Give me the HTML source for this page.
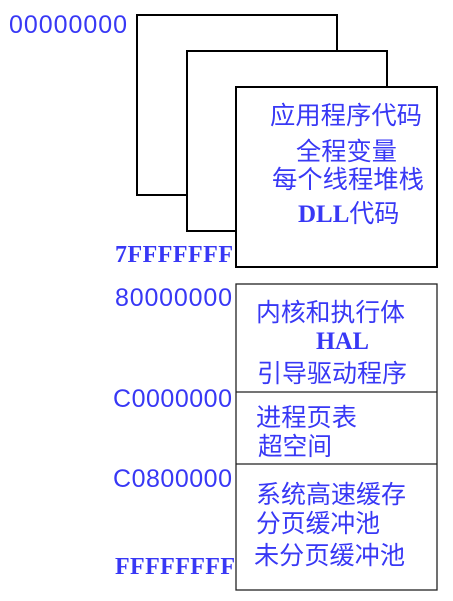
<!DOCTYPE html>
<html><head><meta charset="utf-8"><style>html,body{margin:0;padding:0;background:#fff}svg{display:block}</style></head>
<body>
<svg width="453" height="601" viewBox="0 0 453 601" xmlns="http://www.w3.org/2000/svg">
<g fill="#fff" stroke="#000" stroke-width="2">
<rect x="137" y="15" width="200" height="180"/>
<rect x="187" y="51" width="200" height="180"/>
<rect x="236" y="87" width="201" height="180"/>
</g>
<g fill="none" stroke="#222" stroke-width="1.3">
<rect x="236" y="284" width="201" height="306"/>
<line x1="236" y1="392" x2="437" y2="392"/>
<line x1="236" y1="464" x2="437" y2="464"/>
</g>
<g fill="#3838f5" font-family="'Liberation Sans','DejaVu Sans',sans-serif" font-size="25">
<text x="9" y="33" textLength="118" lengthAdjust="spacing">00000000</text>
<text x="115" y="306" textLength="117" lengthAdjust="spacing">80000000</text>
<text x="113" y="407" textLength="119" lengthAdjust="spacing">C0000000</text>
<text x="113" y="487" textLength="119" lengthAdjust="spacing">C0800000</text>
</g>
<g fill="#3838f5" font-family="'Liberation Serif',serif" font-weight="bold" font-size="24">
<text x="115" y="262" textLength="118" lengthAdjust="spacing">7FFFFFFF</text>
<text x="115" y="574" textLength="120" lengthAdjust="spacing">FFFFFFFF</text>
</g>
<g fill="#3838f5" font-family="'Liberation Sans','Noto Sans CJK SC',sans-serif" font-size="25">
<text x="270" y="124" textLength="152" lengthAdjust="spacingAndGlyphs">应用程序代码</text>
<text x="296" y="160" textLength="101" lengthAdjust="spacingAndGlyphs">全程变量</text>
<text x="272" y="188" textLength="152" lengthAdjust="spacingAndGlyphs">每个线程堆栈</text>
<text x="298" y="222"><tspan font-family="'Liberation Serif',serif" font-weight="bold">DLL</tspan>代码</text>
<text x="256" y="321" textLength="149" lengthAdjust="spacingAndGlyphs">内核和执行体</text>
<text x="316" y="349" font-family="'Liberation Serif',serif" font-weight="bold" textLength="53" lengthAdjust="spacingAndGlyphs">HAL</text>
<text x="257" y="382" textLength="150" lengthAdjust="spacingAndGlyphs">引导驱动程序</text>
<text x="256" y="426" textLength="101" lengthAdjust="spacingAndGlyphs">进程页表</text>
<text x="258" y="455" textLength="74" lengthAdjust="spacingAndGlyphs">超空间</text>
<text x="256" y="503" textLength="150" lengthAdjust="spacingAndGlyphs">系统高速缓存</text>
<text x="256" y="532" textLength="124" lengthAdjust="spacingAndGlyphs">分页缓冲池</text>
<text x="254" y="564" textLength="151" lengthAdjust="spacingAndGlyphs">未分页缓冲池</text>
</g>
</svg>
</body></html>
